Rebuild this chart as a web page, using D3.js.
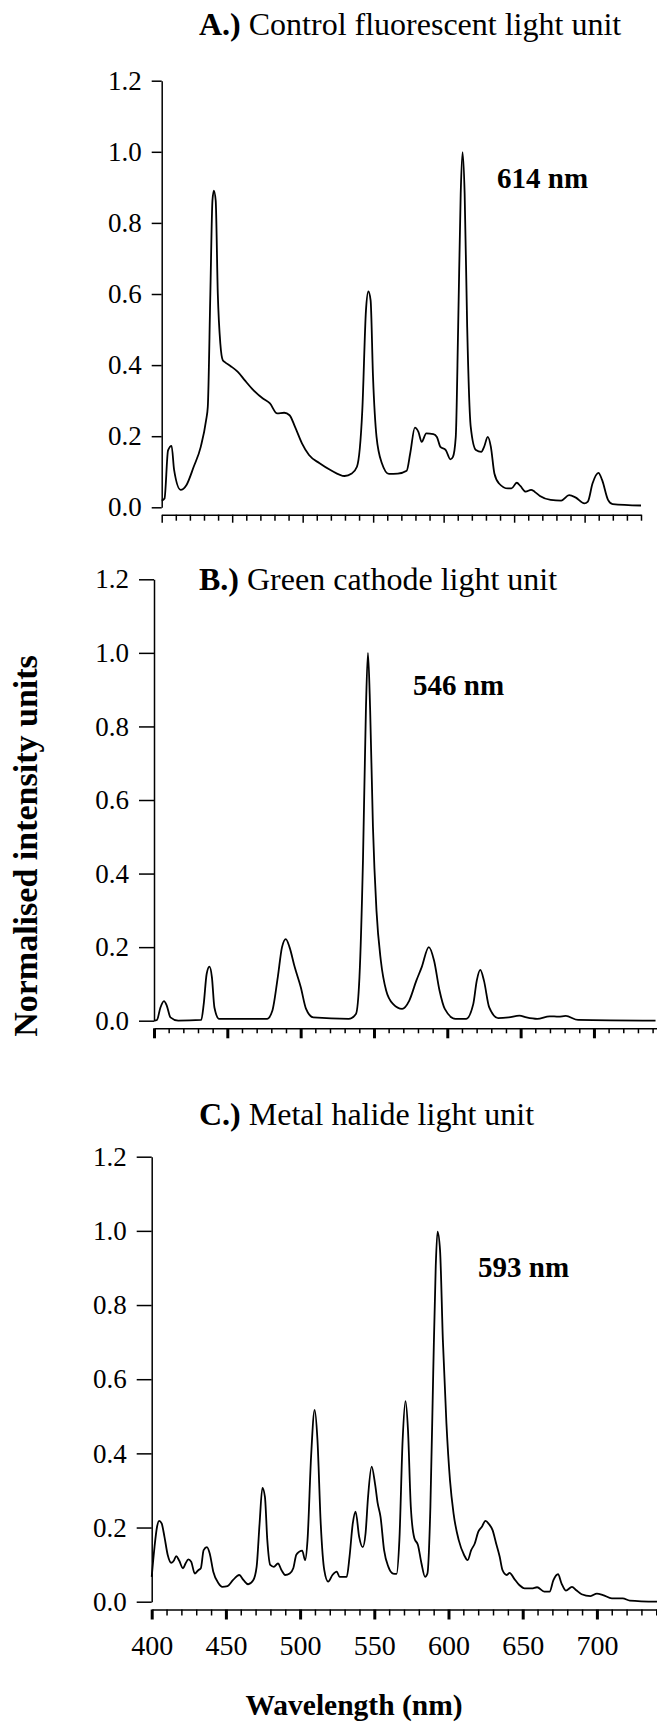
<!DOCTYPE html>
<meta charset="utf-8">
<script src="https://d3js.org/d3.v7.min.js"></script>
<style>
  body { margin: 0; background: #fff; }
  text { font-family: "Liberation Serif", "Times New Roman", serif; fill: #000; }
</style>
<div id="chart"></div>
<script>

// spectra: [wavelength nm, normalised intensity]
var specA = [[400,0.019],[402,0.025],[404.5,0.16],[407,0.173],[408.8,0.105],[413.4,0.049],[417.6,0.063],
  [422.7,0.114],[427.7,0.17],[431.5,0.245],[432.7,0.283],[434.5,0.6],[436,0.863],[437,0.891],[438.3,0.863],
  [439.8,0.6],[441.6,0.46],[443.3,0.414],[444.6,0.409],[449,0.397],[454,0.381],[459,0.357],[464,0.334],
  [471.8,0.306],[476.8,0.292],[481.9,0.264],[486.9,0.266],[490.7,0.259],[494.5,0.227],[499.5,0.18],
  [504.5,0.147],[512,0.124],[519.7,0.105],[529.7,0.088],[534.8,0.095],[538.5,0.114],[542.3,0.273],
  [544.9,0.554],[546.6,0.607],[548.2,0.582],[549.9,0.367],[552.4,0.198],[556.2,0.124],[561.2,0.094],
  [567.5,0.095],[573.8,0.103],[576.3,0.152],[579.6,0.224],[582.1,0.212],[584.4,0.184],[587.7,0.208],
  [592.7,0.206],[595.2,0.198],[597.7,0.17],[601.5,0.161],[604.8,0.135],[606.6,0.142],[608.6,0.198],
  [610.3,0.507],[612.1,0.882],[613.4,0.999],[614.9,0.882],[616.7,0.507],[619.2,0.227],[622.9,0.161],
  [626.7,0.156],[628.7,0.17],[631.3,0.198],[633.5,0.17],[636,0.095],[639.3,0.067],[645.6,0.053],
  [648.1,0.053],[651.9,0.069],[654.4,0.06],[658.2,0.044],[662,0.049],[664.5,0.044],[668.3,0.032],
  [675.9,0.021],[683.4,0.019],[689,0.034],[693.5,0.028],[699.8,0.011],[702.3,0.016],[705.6,0.067],
  [709.8,0.097],[712.4,0.077],[716.6,0.021],[719.9,0.009],[740,0.005]];

var specB = [[400,0],[402,0.002],[404.4,0.036],[406.8,0.053],[408.7,0.041],[411.2,0.009],[416.5,0],
  [432.2,0.002],[433.9,0.045],[435.9,0.127],[437.8,0.147],[439.5,0.118],[441.2,0.036],[444.4,0.005],
  [477.1,0.005],[480.7,0.027],[484.4,0.118],[487.3,0.2],[489.9,0.222],[492.4,0.2],[496,0.145],
  [500.1,0.091],[503.7,0.032],[508.6,0.009],[532.8,0.005],[537.7,0.018],[540.1,0.118],[542.5,0.436],
  [544.5,0.844],[545.9,1.0],[547.4,0.844],[549.3,0.527],[551.7,0.3],[554.7,0.163],[558.3,0.082],
  [563.1,0.045],[569.2,0.032],[574,0.054],[578.9,0.109],[582.5,0.145],[587.4,0.2],[591,0.163],
  [594.7,0.082],[598.3,0.032],[605.6,0.005],[612.8,0.005],[617.7,0.045],[620.1,0.109],[622.5,0.138],
  [625,0.109],[628.6,0.036],[634.7,0.007],[641.9,0.009],[649.2,0.014],[654,0.009],[661.3,0.005],
  [669.8,0.012],[675.9,0.011],[680.7,0.013],[689.2,0.002],[742,0]];

var specC = [[400,0.067],[401.9,0.148],[403.6,0.202],[405,0.218],[406.7,0.211],[408.6,0.175],[410.8,0.126],
  [413.2,0.105],[415.1,0.112],[416.5,0.123],[418.5,0.111],[421.1,0.09],[422.8,0.103],[424.7,0.114],
  [426.6,0.108],[429,0.076],[431.4,0.085],[433.1,0.09],[435,0.139],[437.2,0.147],[439.1,0.13],
  [441.5,0.081],[445.1,0.049],[447.5,0.04],[451.1,0.042],[454.7,0.058],[459,0.072],[461.9,0.058],
  [465,0.047],[468.3,0.057],[470.7,0.094],[472.7,0.211],[474.6,0.307],[476.3,0.283],[477.9,0.166],
  [479.9,0.099],[482.3,0.094],[485.1,0.103],[487.5,0.085],[489.9,0.072],[493,0.076],[495.4,0.09],
  [497.4,0.126],[499.5,0.135],[501.4,0.138],[503.4,0.112],[505,0.166],[507.4,0.391],[509.8,0.517],
  [511.7,0.436],[513.9,0.211],[516.3,0.085],[518.9,0.054],[521.8,0.072],[524.7,0.081],[526.6,0.067],
  [529,0.067],[531.4,0.067],[533.3,0.121],[535.5,0.211],[537.4,0.243],[539.8,0.175],[542.2,0.147],
  [544.1,0.184],[545.8,0.283],[548.2,0.364],[550.6,0.315],[552.3,0.265],[554.2,0.229],[556.6,0.139],
  [559.5,0.094],[562.6,0.076],[565,0.075],[566.9,0.166],[569.1,0.436],[571,0.541],[572.7,0.463],
  [574.6,0.256],[577,0.171],[579.4,0.153],[581.8,0.103],[584.2,0.067],[585.8,0.076],[587.8,0.256],
  [589.7,0.616],[591.4,0.904],[592.6,0.998],[594.3,0.948],[596.2,0.706],[598.6,0.481],[601,0.328],
  [603.4,0.238],[606.9,0.166],[610.5,0.126],[612.9,0.112],[615.3,0.139],[617.7,0.157],[620.1,0.189],
  [622.5,0.202],[624.9,0.218],[627.3,0.209],[629.7,0.193],[632.1,0.157],[634.5,0.121],[636.4,0.085],
  [639.3,0.072],[641.2,0.078],[644.1,0.063],[647.7,0.045],[651.3,0.036],[656.1,0.036],[659.7,0.039],
  [664.5,0.027],[668.1,0.027],[670.7,0.058],[673.8,0.074],[676.2,0.049],[679.1,0.03],[683.2,0.04],
  [686.1,0.031],[689.7,0.02],[695.7,0.015],[700,0.022],[704.1,0.018],[710.1,0.009],[717.4,0.009],
  [722.2,0.003],[740.5,0]];

var yTicks = [0, 0.2, 0.4, 0.6, 0.8, 1.0, 1.2];
var xTicks = d3.range(400, 741, 10);
var xLabels = [400, 450, 500, 550, 600, 650, 700];

var width = 657, height = 1723;

var svg = d3.select("#chart").append("svg")
    .attr("width", width)
    .attr("height", height);

function panel(p) {
  var x = d3.scaleLinear().domain(p.xDomain).range([p.left, p.right]);
  var y = d3.scaleLinear().domain([0, 1.2]).range([p.bottom, p.top]);
  var g = svg.append("g");

  // y axis
  var ya = g.append("g")
      .attr("transform", "translate(" + p.left + ",0)")
      .call(d3.axisLeft(y).tickValues(yTicks).tickSize(p.yTick).tickSizeOuter(0)
        .tickPadding(10).tickFormat(d3.format(".1f")));
  ya.attr("font-family", null).attr("font-size", null);
  ya.selectAll("text").style("font-size", "27px");
  ya.selectAll("path, line").attr("stroke-width", 1.5);

  // x axis, offset below the zero line
  var xa = g.append("g")
      .attr("transform", "translate(0," + p.axisY + ")")
      .call(d3.axisBottom(x).tickValues(xTicks).tickSize(p.majorLen).tickSizeOuter(0)
        .tickPadding(16)
        .tickFormat(function(d) { return p.labels && xLabels.indexOf(d) >= 0 ? d : ""; }));
  xa.attr("font-family", null).attr("font-size", null);
  xa.selectAll("text").style("font-size", "28px");
  xa.select(".domain").attr("stroke-width", 1.5);
  xa.selectAll(".tick line")
    .attr("y2", function(d) { return d % 50 === 0 ? p.majorLen : p.minorLen; })
    .attr("stroke-width", function(d) { return d % 50 === 0 ? p.majorW : 1.5; });

  // spectrum
  g.append("path")
    .datum(p.data)
    .attr("fill", "none")
    .attr("stroke", "#000")
    .attr("stroke-width", 1.8)
    .attr("stroke-linejoin", "round")
    .attr("d", d3.line()
      .curve(d3.curveMonotoneX)
      .x(function(d) { return x(d[0]); })
      .y(function(d) { return y(d[1]); }));

  // title
  var t = g.append("text")
      .attr("x", p.titleX)
      .attr("y", p.titleY)
      .style("font-size", "32px");
  t.append("tspan").style("font-weight", "bold").text(p.tag);
  t.append("tspan").text(" " + p.title);

  // peak note
  g.append("text")
      .attr("x", p.noteX)
      .attr("y", p.noteY)
      .style("font-size", "29px")
      .style("font-weight", "bold")
      .text(p.note);
}

panel({ data: specA, xDomain: [400, 740], left: 161.7, right: 641, top: 80.7, bottom: 507.3,
  axisY: 514.7, yTick: 10, majorLen: 8, minorLen: 6, majorW: 1.5, labels: false,
  tag: "A.)", title: "Control fluorescent light unit", titleX: 199, titleY: 35,
  note: "614 nm", noteX: 497, noteY: 188 });

panel({ data: specB, xDomain: [400, 743], left: 154, right: 657, top: 579.3, bottom: 1020.7,
  axisY: 1028.3, yTick: 15, majorLen: 10, minorLen: 5, majorW: 3, labels: false,
  tag: "B.)", title: "Green cathode light unit", titleX: 199, titleY: 590,
  note: "546 nm", noteX: 413, noteY: 695 });

panel({ data: specC, xDomain: [400, 740.5], left: 151.7, right: 657, top: 1156.7, bottom: 1601.7,
  axisY: 1609.5, yTick: 15, majorLen: 10, minorLen: 6, majorW: 3, labels: true,
  tag: "C.)", title: "Metal halide light unit", titleX: 199, titleY: 1125,
  note: "593 nm", noteX: 478, noteY: 1277 });

// shared axis titles
svg.append("text")
    .attr("transform", "translate(37,846) rotate(-90)")
    .attr("text-anchor", "middle")
    .style("font-size", "34px")
    .style("font-weight", "bold")
    .text("Normalised intensity units");

svg.append("text")
    .attr("x", 354)
    .attr("y", 1715)
    .attr("text-anchor", "middle")
    .style("font-size", "29.5px")
    .style("font-weight", "bold")
    .text("Wavelength (nm)");

</script>
